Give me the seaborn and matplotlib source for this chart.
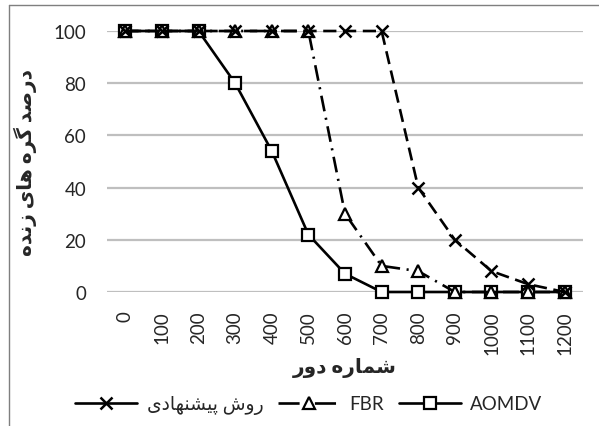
import matplotlib
matplotlib.use("Agg")
import matplotlib.pyplot as plt
from matplotlib.lines import Line2D
import seaborn as sns
import pandas as pd

rounds = [0, 100, 200, 300, 400, 500, 600, 700, 800, 900, 1000, 1100, 1200]
proposed = [100, 100, 100, 100, 100, 100, 100, 100, 40, 20, 8, 3, 0]
fbr = [100, 100, 100, 100, 100, 100, 30, 10, 8, 0, 0, 0, 0]
aomdv = [100, 100, 100, 80, 54, 22, 7, 0, 0, 0, 0, 0, 0]
y_ticks = [0, 20, 40, 60, 80, 100]

label_proposed = "روش پیشنهادی"
label_fbr = "FBR"
label_aomdv = "AOMDV"
x_title = "شماره دور"
y_title = "درصد گره های زنده"

# minimal Persian shaping (presentation forms, visual order)
FORMS = {
    'ا': ('\uFE8D', '\uFE8E', None, None),
    'د': ('\uFEA9', '\uFEAA', None, None),
    'ر': ('\uFEAD', '\uFEAE', None, None),
    'ز': ('\uFEAF', '\uFEB0', None, None),
    'و': ('\uFEED', '\uFEEE', None, None),
    'ص': ('\uFEB9', '\uFEBA', '\uFEBB', '\uFEBC'),
    'ش': ('\uFEB5', '\uFEB6', '\uFEB7', '\uFEB8'),
    'م': ('\uFEE1', '\uFEE2', '\uFEE3', '\uFEE4'),
    'ن': ('\uFEE5', '\uFEE6', '\uFEE7', '\uFEE8'),
    'ه': ('\uFEE9', '\uFEEA', '\uFEEB', '\uFEEC'),
    'گ': ('\uFB92', '\uFB93', '\uFB94', '\uFB95'),
    'پ': ('\uFB56', '\uFB57', '\uFB58', '\uFB59'),
    'ی': ('\uFBFC', '\uFBFD', '\uFBFE', '\uFBFF'),
}


def shape(text):
    words = []
    for word in text.split(' '):
        chars = list(word)
        res = []
        for i, c in enumerate(chars):
            f = FORMS.get(c)
            if f is None:
                res.append(c)
                continue
            prev = chars[i - 1] if i > 0 else None
            nxt = chars[i + 1] if i + 1 < len(chars) else None
            jp = prev in FORMS and FORMS[prev][2] is not None
            jn = nxt in FORMS and f[2] is not None
            if jp and jn:
                res.append(f[3])
            elif jp:
                res.append(f[1])
            elif jn:
                res.append(f[2])
            else:
                res.append(f[0])
        words.append(''.join(reversed(res)))
    return ' '.join(reversed(words))


sns.set_theme(style="white")
plt.rcParams['font.family'] = ['Lato', 'DejaVu Sans']

fig = plt.figure(figsize=(5.99, 4.27), dpi=100)
ax = fig.add_axes([107 / 599, 1 - 293 / 427, (583 - 107) / 599, (293 - 32) / 427])

df = pd.DataFrame({"round": rounds, "p": proposed, "f": fbr, "a": aomdv})

lw = 1.9
sns.lineplot(data=df, x="round", y="a", ax=ax, color="black", lw=lw,
             marker="s", markersize=8.5, markerfacecolor="white",
             markeredgecolor="black", markeredgewidth=1.6, zorder=3, clip_on=False,
             label=label_aomdv, legend=False)
sns.lineplot(data=df, x="round", y="f", ax=ax, color="black", lw=lw,
             marker="^", markersize=8.5, markerfacecolor="white",
             markeredgecolor="black", markeredgewidth=1.6, zorder=4, clip_on=False,
             label=label_fbr, legend=False)
sns.lineplot(data=df, x="round", y="p", ax=ax, color="black", lw=lw,
             marker="x", markersize=9, markeredgecolor="black",
             markeredgewidth=1.8, zorder=5, clip_on=False,
             label=shape(label_proposed), legend=False)

lines = ax.get_lines()
lines[1].set_dashes([6, 2.5, 0.8, 2.5])
lines[2].set_dashes([5, 2.5])

ax.set_xlim(-50, 1250)
ax.set_ylim(0, 100)
ax.set_xticks(rounds)
ax.set_xticklabels([str(r) for r in rounds], rotation=90, fontsize=13.5)
ax.set_yticks(y_ticks)
ax.set_yticklabels([str(v) for v in y_ticks], fontsize=13.5)
ax.tick_params(axis='x', length=0, pad=13)
ax.tick_params(axis='y', length=0, pad=15)
ax.grid(axis='y', color='#BFBFBF', lw=1.6, zorder=0)
ax.grid(axis='x', visible=False)
for s in ax.spines.values():
    s.set_visible(False)

ax.set_xlabel(shape(x_title), fontsize=14.5, fontweight='bold', labelpad=2)
ax.set_ylabel(shape(y_title), fontsize=14.5, fontweight='bold', labelpad=12)

# legend proxies: handles drawn as in the reference legend
h_p = Line2D([], [], color='black', lw=lw, marker='x', markersize=9,
             markeredgewidth=1.8)
h_f = Line2D([], [], color='black', lw=lw, marker='^', markersize=8.5,
             markerfacecolor='white', markeredgewidth=1.6, dashes=[8, 2.5, 0.8, 2.5])
h_a = Line2D([], [], color='black', lw=lw, marker='s', markersize=8.5,
             markerfacecolor='white', markeredgewidth=1.6)
handles = [h_p, h_f, h_a]
labels = [shape(label_proposed), label_fbr, label_aomdv]
fig.legend(handles, labels, loc='center', bbox_to_anchor=(309 / 599, 1 - 406 / 427),
           ncol=3, frameon=False, fontsize=13.5, handlelength=3.3,
           columnspacing=0.8, handletextpad=0.5)

fig.add_artist(Line2D([9 / 599, 9 / 599], [0, 1 - 6 / 427], transform=fig.transFigure,
                      color='#7F7F7F', lw=1))
fig.add_artist(Line2D([9 / 599, 1], [1 - 6 / 427, 1 - 6 / 427], transform=fig.transFigure,
                      color='#7F7F7F', lw=1))

fig.savefig("out.png", dpi=100)
